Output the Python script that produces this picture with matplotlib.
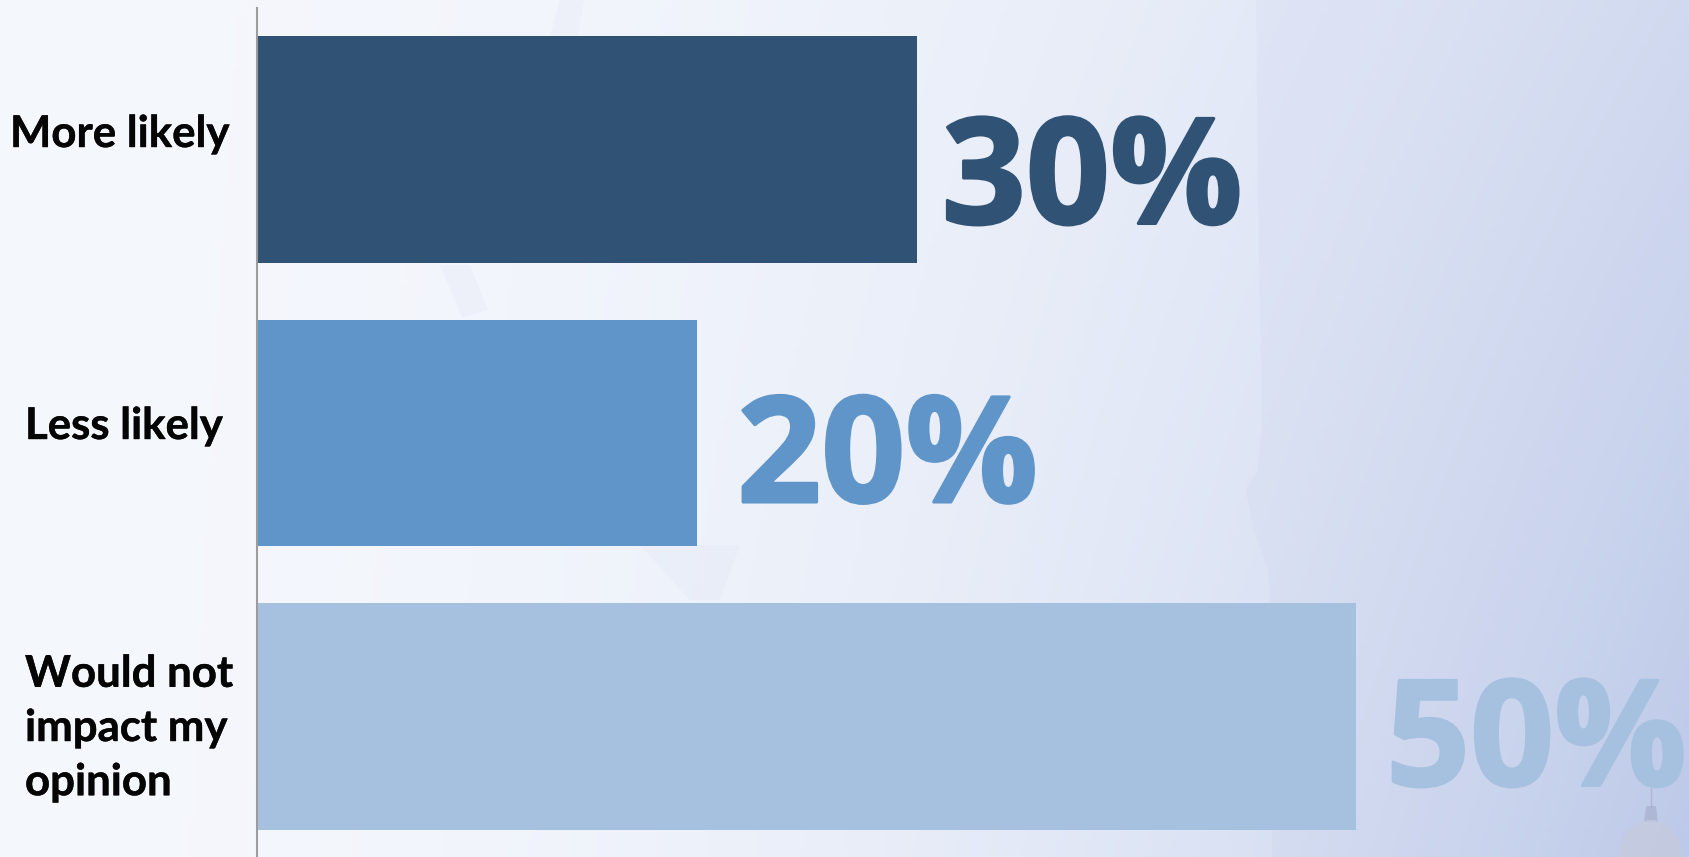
#!/usr/bin/python
import numpy as np
import matplotlib
matplotlib.use('Agg')
import matplotlib.pyplot as plt
import matplotlib.patheffects as pe
from matplotlib.patches import Polygon, Ellipse

categories = ['More likely', 'Less likely', 'Would not\nimpact my\nopinion']
values = [30, 20, 50]
value_labels = ['30%', '20%', '50%']
bar_colors = ['#2F5275', '#5F95C9', '#A6C1DF']

W, H = 1690, 857
fig = plt.figure(figsize=(W/100, H/100), dpi=100)

# background wash, pale white to periwinkle
bg = fig.add_axes([0, 0, 1, 1], zorder=0)
xx, yy = np.meshgrid(np.linspace(0, 1, 400), np.linspace(0, 1, 200))
t = xx**2.2*(0.6 + 0.4*yy)
c0 = np.array([0.96, 0.97, 0.99])
c1 = np.array([0.75, 0.80, 0.92])
img = c0[None, None, :]*(1-t[..., None]) + c1[None, None, :]*t[..., None]
bg.imshow(img, aspect='auto', extent=[0, W, H, 0])

# faint map shapes from the backdrop photo
map_edge = [(1256, 0), (1258, 200), (1262, 420), (1258, 470), (1246, 490), (1254, 530),
            (1268, 570), (1272, 640), (1272, 857), (W, 857), (W, 0)]
bg.add_patch(Polygon(map_edge, closed=True, fc='#A8AEDC', ec='none', alpha=0.07))
blotches = [[(560, 0), (584, 0), (578, 36), (550, 36)],
            [(470, 265), (488, 310), (462, 318), (440, 265)],
            [(640, 545), (740, 545), (720, 600), (690, 600)]]
for b in blotches:
    bg.add_patch(Polygon(b, closed=True, fc='#D8DAEE', ec='none', alpha=0.15))
# capitol dome, bottom right corner
dome_color = '#8F97B0'
bg.plot([1651, 1651], [788, 806], color=dome_color, lw=1, alpha=0.4)
bg.add_patch(Polygon([(1646, 806), (1656, 806), (1658, 822), (1644, 822)], closed=True,
                     fc=dome_color, ec='none', alpha=0.35))
bg.add_patch(Ellipse((1651, 857), 62, 74, fc='#C6CBDD', ec='none', alpha=0.7))
bg.set_xlim(0, W)
bg.set_ylim(H, 0)
bg.axis('off')

# axes: x=0 at left spine, 50% bar ends at 1356px
left, right = 258, 1690
ax = fig.add_axes([left/W, 0, (right-left)/W, (H-8)/H], zorder=1)
ax.patch.set_alpha(0)
y = np.arange(len(values))
ax.barh(y, values, height=0.8, color=bar_colors)
ax.set_xlim(0, (right-left)/(1356-258)*50)
# bars are 283.5px apart; top bar centre at 149.5px, bottom at 716.5px
ax.set_ylim(2+(857-716.5)/283.5, (149.5-8)/-283.5)

for s in ['top', 'right', 'bottom']:
    ax.spines[s].set_visible(False)
ax.spines['left'].set_color('#9C9C9C')
ax.spines['left'].set_linewidth(1.5)
ax.spines['left'].set_position(('outward', 0.8))
ax.set_xticks([])
ax.set_yticks([])

# the percent labels do not sit at the same offset from their bars
label_dx = [25, 40, 30]
label_dy = [-74, -69, -69]
for i, v in enumerate(values):
    ax.annotate(value_labels[i], (v, i), xytext=(label_dx[i], label_dy[i]), textcoords='offset pixels',
                color=bar_colors[i], fontsize=106, fontweight='bold', family='Open Sans',
                va='baseline', ha='left',
                path_effects=[pe.withStroke(linewidth=2.2, foreground=bar_colors[i])])

label_x = [10, 25, 25]
label_y = [134, 426, 728]
for i, name in enumerate(categories):
    fig.text(label_x[i]/W, 1-label_y[i]/H, name, fontsize=31.5, fontweight='bold',
             family='Lato', color='#050505', ha='left', va='center', linespacing=1.43,
             path_effects=[pe.withStroke(linewidth=0.3, foreground='#050505')])

fig.savefig('out.png', dpi=100)
